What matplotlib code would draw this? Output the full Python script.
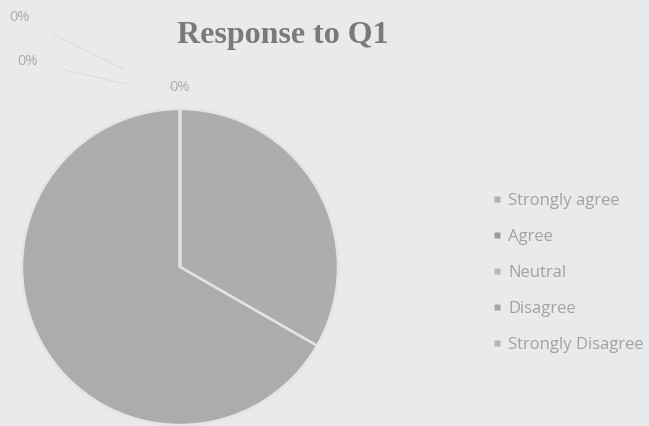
import matplotlib.pyplot as plt
from matplotlib.lines import Line2D

# Response shares for Q1 (percent)
categories = ['Strongly agree', 'Agree', 'Neutral', 'Disagree', 'Strongly Disagree']
values = [33.3, 66.7, 0, 0, 0]
slice_colors = ['#adadb0', '#abacae', '#b8b8ba', '#a8a8ab', '#b4b4b6']

W, H = 649, 426
fig = plt.figure(figsize=(W / 100, H / 100), dpi=100)
fig.patch.set_facecolor('#eaeaec')

# pie centre ~ (180, 267) px, radius ~158 px
cx, cy, r = 180, 267, 158
ax = fig.add_axes([(cx - r) / W, (H - cy - r) / H, 2 * r / W, 2 * r / H])
ax.set_facecolor('none')
wedges, _ = ax.pie(values, colors=slice_colors, startangle=90, counterclock=False,
                   radius=1, wedgeprops=dict(edgecolor='#e4e4e6', linewidth=1.8))
ax.set_xlim(-1, 1)
ax.set_ylim(-1, 1)
ax.set_aspect('equal')
ax.axis('off')

# data labels for the zero slices (only these are visible in the scan)
label_pos = [(-1.08, 1.58), (-1.03, 1.30), (-0.07, 1.135)]
line_end = [(-0.35, 1.25), (-0.35, 1.16), (-0.07, 1.135)]
for (lx, ly), (ex, ey) in zip(label_pos, line_end):
    ax.annotate('0%', xy=(ex, ey), xytext=(lx, ly), fontsize=10.5, color='#ababad',
                family='Open Sans', ha='left', va='center', annotation_clip=False,
                arrowprops=dict(arrowstyle='-', color='#dcdcde', lw=0.8,
                                shrinkA=16, shrinkB=0))

fig.text(283 / W, 1 - 35 / H, 'Response to Q1', ha='center', va='center',
         fontsize=23, fontweight='bold', family='Liberation Serif', color='#7a7a7c')

handles = [Line2D([], [], marker='s', linestyle='none', markersize=4.5,
                  markerfacecolor=c, markeredgecolor='none') for c in
           ['#b0b0b2', '#9c9c9e', '#b8b8ba', '#a6a6a8', '#b4b4b6']]
leg = fig.legend(handles, categories, loc='upper left', bbox_to_anchor=(478 / W, 1 - 178 / H),
                 frameon=False, handlelength=0.5, handletextpad=0.4, labelspacing=1.2,
                 prop=dict(family='Open Sans', size=12))
for t in leg.get_texts():
    t.set_color('#a2a2a4')

fig.savefig('out.png', dpi=100, facecolor=fig.get_facecolor())
